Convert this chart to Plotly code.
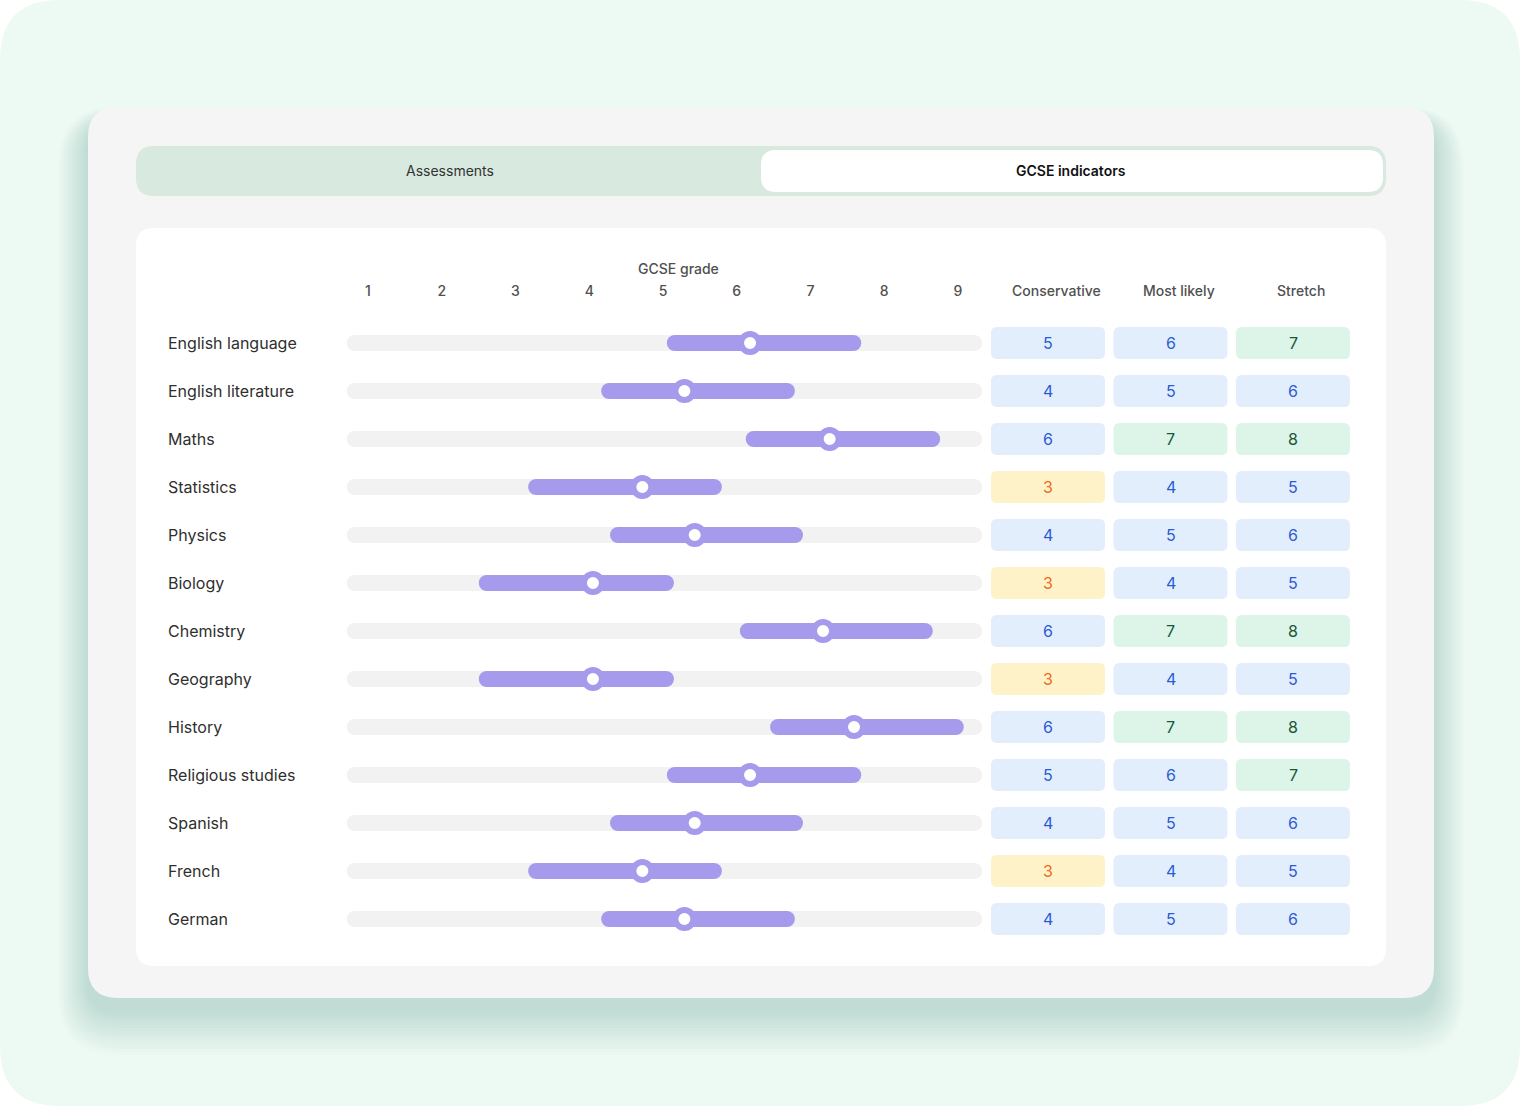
import plotly.graph_objects as go

W, H = 1520, 1106

subjects = ['English language', 'English literature', 'Maths', 'Statistics', 'Physics', 'Biology',
            'Chemistry', 'Geography', 'History', 'Religious studies', 'Spanish', 'French', 'German']
range_low = [5.16, 4.27, 6.23, 3.28, 4.39, 2.61, 6.15, 2.61, 6.56, 5.16, 4.39, 3.28, 4.27]
range_high = [7.58, 6.68, 8.65, 5.69, 6.79, 5.04, 8.55, 5.04, 8.97, 7.58, 6.79, 5.69, 6.68]
predicted = [6.18, 5.29, 7.26, 4.72, 5.43, 4.05, 7.17, 4.05, 7.59, 6.18, 5.43, 4.72, 5.29]
conservative = [5, 4, 6, 3, 4, 3, 6, 3, 6, 5, 4, 3, 4]
most_likely = [6, 5, 7, 4, 5, 4, 7, 4, 7, 6, 5, 4, 5]
stretch = [7, 6, 8, 5, 6, 5, 8, 5, 8, 7, 6, 5, 6]
grades = [1, 2, 3, 4, 5, 6, 7, 8, 9]
columns = ['Conservative', 'Most likely', 'Stretch']
track_range = [0.82, 9.22]
tabs = ['Assessments', 'GCSE indicators']

FONT = 'Inter'
PURPLE = '#A69AEC'
TRACK = '#F2F2F2'


def cell_style(v):
    # background, text colour
    if v <= 3:
        return '#FEF2C9', '#F06A1E'
    if v >= 7:
        return '#DDF5E8', '#17573A'
    return '#E3EEFD', '#2A5AD6'


def rr(x0, y0, x1, y1, rx, ry, fx=lambda v: v, fy=lambda v: v):
    pts = [('M', x0 + rx, y0), ('L', x1 - rx, y0), ('Q', x1, y0, x1, y0 + ry),
           ('L', x1, y1 - ry), ('Q', x1, y1, x1 - rx, y1), ('L', x0 + rx, y1),
           ('Q', x0, y1, x0, y1 - ry), ('L', x0, y0 + ry), ('Q', x0, y0, x0 + rx, y0)]
    out = ''
    for p in pts:
        out += p[0] + ' ' + ' '.join(
            f'{fx(p[i]):.5f},{fy(p[i + 1]):.5f}' for i in range(1, len(p), 2)) + ' '
    return out + 'Z'


def paper_rr(x0, y0, x1, y1, r):
    return rr(x0, y0, x1, y1, r, r, lambda v: v / W, lambda v: 1 - v / H)


shapes = []
# mint background
shapes.append(dict(type='path', xref='paper', yref='paper', layer='below',
                   path=paper_rr(0, 0, W, H, 60), fillcolor='#EDFAF3', line_width=0))
# card shadow
for k in range(15, 0, -1):
    shapes.append(dict(type='path', xref='paper', yref='paper', layer='below',
                       path=paper_rr(88 - 2 * k, 122 - k, 1434 + 2 * k, 1010 + 3 * k, 30 + 2 * k),
                       fillcolor='rgba(40,80,60,0.013)', line_width=0))
# card
shapes.append(dict(type='path', xref='paper', yref='paper', layer='below',
                   path=paper_rr(88, 107, 1434, 998, 30), fillcolor='#F5F5F5', line_width=0))
# tab bar
shapes.append(dict(type='path', xref='paper', yref='paper', layer='below',
                   path=paper_rr(136, 146, 1386, 196, 18), fillcolor='#D8E9DF', line_width=0))
shapes.append(dict(type='path', xref='paper', yref='paper', layer='below',
                   path=paper_rr(761, 150, 1383, 192, 15), fillcolor='white', line_width=0))
# inner white panel
shapes.append(dict(type='path', xref='paper', yref='paper', layer='below',
                   path=paper_rr(136, 228, 1386, 966, 18), fillcolor='white', line_width=0))

# table cells (column units: 122.5 px, row units: 48 px)
hw, hh, rx, ry = 57 / 122.5, 16 / 48, 6 / 122.5, 6 / 48
for i in range(len(subjects)):
    for c, vals in enumerate([conservative, most_likely, stretch]):
        bg, _ = cell_style(vals[i])
        shapes.append(dict(type='path', xref='x2', yref='y', layer='below',
                           path=rr(c - hw, i - hh, c + hw, i + hh, rx, ry),
                           fillcolor=bg, line_width=0))

fig = go.Figure()

# grey tracks
tx, ty = [], []
for i in range(len(subjects)):
    tx += [track_range[0], track_range[1], None]
    ty += [i, i, None]
fig.add_trace(go.Scatter(x=tx, y=ty, mode='lines+markers', line=dict(color=TRACK, width=16),
                         marker=dict(color=TRACK, size=16, line_width=0), cliponaxis=False,
                         hoverinfo='skip'))

# purple ranges
bx, by = [], []
for i in range(len(subjects)):
    bx += [range_low[i], range_high[i], None]
    by += [i, i, None]
fig.add_trace(go.Scatter(x=bx, y=by, mode='lines+markers', line=dict(color=PURPLE, width=16),
                         marker=dict(color=PURPLE, size=16, line_width=0), cliponaxis=False,
                         hoverinfo='skip'))

# predicted grade
fig.add_trace(go.Scatter(x=predicted, y=list(range(len(subjects))), mode='markers',
                         marker=dict(color='white', size=18, line=dict(color=PURPLE, width=6)),
                         cliponaxis=False, text=subjects,
                         hovertemplate='%{text}: %{x}<extra></extra>'))

annotations = []
# table numbers
for c, vals in enumerate([conservative, most_likely, stretch]):
    for i, v in enumerate(vals):
        annotations.append(dict(text=str(v), xref='x2', x=c, yref='y', y=i,
                                xanchor='center', yanchor='middle', showarrow=False,
                                font=dict(family=FONT, size=16, color=cell_style(v)[1])))
for i, s in enumerate(subjects):
    annotations.append(dict(text=s, xref='paper', x=166 / W, yref='y', y=i, xanchor='left',
                            yanchor='middle', showarrow=False,
                            font=dict(family=FONT, size=16, color='#2F2F2F')))
for c, name in enumerate(columns):
    annotations.append(dict(text=name, xref='x2', x=c, xshift=8, yref='paper', y=1 - 290 / H,
                            xanchor='center', yanchor='middle', showarrow=False,
                            font=dict(family=FONT, size=14, color='#505050', weight=500)))
annotations.append(dict(text='GCSE grade', xref='paper', x=678 / W, yref='paper', y=1 - 268 / H,
                        xanchor='center', yanchor='middle', showarrow=False,
                        font=dict(family=FONT, size=14, color='#505050', weight=500)))
annotations.append(dict(text=tabs[0], xref='paper', x=450 / W, yref='paper', y=1 - 171 / H,
                        xanchor='center', yanchor='middle', showarrow=False,
                        font=dict(family=FONT, size=14, color='#333333')))
annotations.append(dict(text=tabs[1], xref='paper', x=1071 / W, yref='paper', y=1 - 171 / H,
                        xanchor='center', yanchor='middle', showarrow=False,
                        font=dict(family=FONT, size=14, color='#111111', weight=600)))

fig.update_layout(
    width=W, height=H, autosize=False, margin=dict(l=0, r=0, t=0, b=0),
    paper_bgcolor='white', plot_bgcolor='rgba(0,0,0,0)', showlegend=False,
    shapes=shapes, annotations=annotations,
    xaxis=dict(domain=[338.5 / W, 987.5 / W], range=[0.6, 9.4], side='top', anchor='y',
               tickvals=grades, ticktext=[str(g) for g in grades], ticks='',
               showgrid=False, zeroline=False, showline=False, fixedrange=True,
               tickfont=dict(family=FONT, size=14, color='#505050', weight=500)),
    xaxis2=dict(domain=[986.75 / W, 1354.25 / W], range=[-0.5, 2.5], anchor='y', visible=False,
                fixedrange=True),
    yaxis=dict(domain=[1 - 966 / H, 1 - 300 / H], range=[(966 - 343) / 48, (300 - 343) / 48],
               visible=False, fixedrange=True),
)

fig.write_html('out.html', config={'displayModeBar': False},
               post_script="document.body.style.margin='0';")
